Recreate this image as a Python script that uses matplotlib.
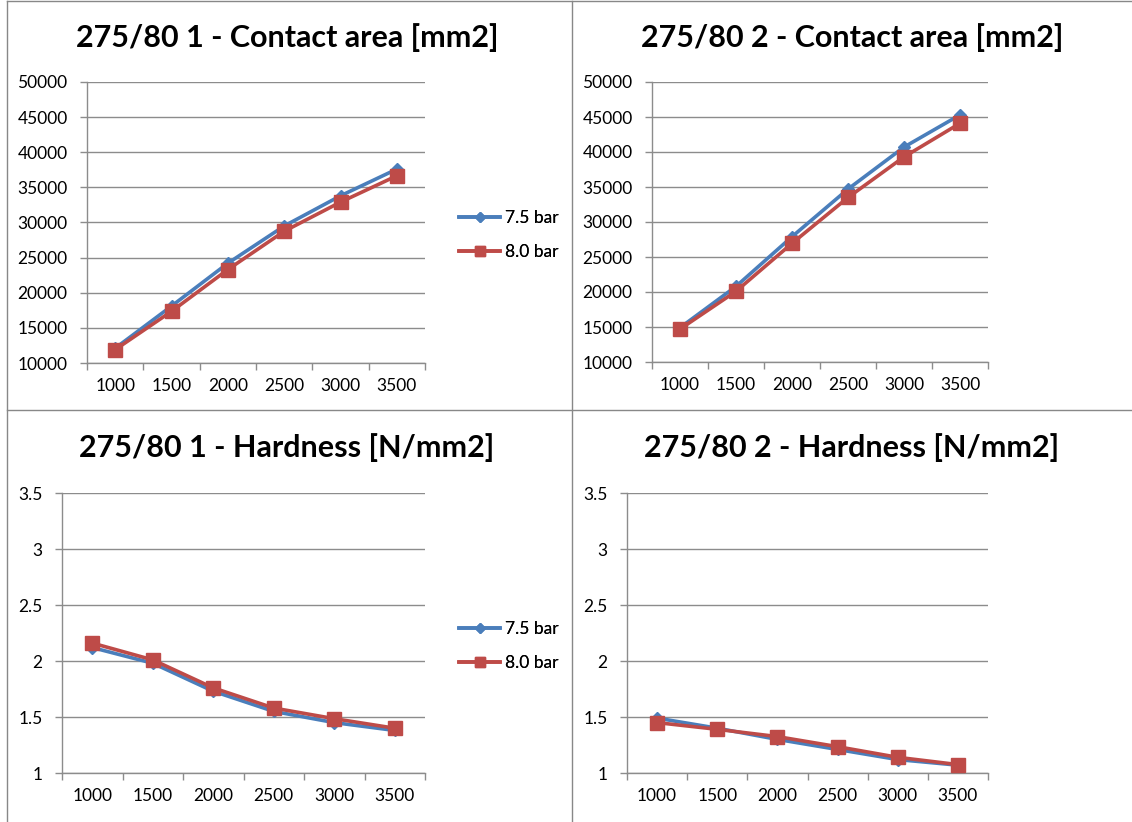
import matplotlib.pyplot as plt
from matplotlib.lines import Line2D

plt.rcParams['font.family'] = ['Lato', 'DejaVu Sans']

loads = ['1000', '1500', '2000', '2500', '3000', '3500']

# contact area [mm2], tyre 1 and tyre 2
area1_75 = [12100, 18100, 24200, 29500, 33800, 37600]
area1_80 = [11900, 17350, 23300, 28750, 32900, 36650]
area2_75 = [14900, 20800, 27900, 34700, 40700, 45300]
area2_80 = [14700, 20100, 26950, 33500, 39300, 44100]

# hardness [N/mm2]
hard1_75 = [2.12, 1.98, 1.73, 1.55, 1.45, 1.38]
hard1_80 = [2.16, 2.01, 1.76, 1.58, 1.485, 1.40]
hard2_75 = [1.49, 1.40, 1.30, 1.21, 1.12, 1.07]
hard2_80 = [1.45, 1.39, 1.325, 1.235, 1.14, 1.075]

series_labels = ['7.5 bar', '8.0 bar']
blue = '#4A7EBB'
red = '#BE4B48'
grid_col = '#8C8C8C'

W, H = 1132, 822
fig = plt.figure(figsize=(W / 100, H / 100), dpi=100)


def px_axes(x0, y0, x1, y1):
    return fig.add_axes([x0 / W, 1 - y1 / H, (x1 - x0) / W, (y1 - y0) / H])


def draw_panel(box, title, title_xy, s75, s80, ylim, ystep, yfmt, leg_y):
    ax = px_axes(*box)
    x = list(range(len(loads)))
    ax.plot(x, s75, color=blue, lw=2.6, marker='D', ms=6.5, label=series_labels[0], zorder=3)
    ax.plot(x, s80, color=red, lw=2.6, marker='s', ms=9.5, label=series_labels[1], zorder=4)
    ax.set_xlim(-0.5, len(loads) - 0.5)
    ax.set_ylim(*ylim)
    yt = []
    v = ylim[0]
    while v <= ylim[1] + 1e-9:
        yt.append(v)
        v += ystep
    ax.set_yticks(yt)
    ax.set_yticklabels([yfmt(t) for t in yt])
    ax.set_xticks([i - 0.5 for i in range(len(loads) + 1)])
    ax.set_xticklabels([])
    ax.set_xticks(x, minor=True)
    ax.set_xticklabels(loads, minor=True)
    ax.tick_params(axis='x', which='major', length=5, color=grid_col, width=1)
    ax.tick_params(axis='x', which='minor', length=0, pad=11, labelsize=12.5)
    ax.tick_params(axis='y', length=5, color=grid_col, width=1, labelsize=12.5, pad=9)
    ax.grid(axis='y', color=grid_col, lw=1)
    ax.set_axisbelow(True)
    for s in ('top', 'right'):
        ax.spines[s].set_visible(False)
    for s in ('left', 'bottom'):
        ax.spines[s].set_color(grid_col)
        ax.spines[s].set_linewidth(1)
    fig.text(title_xy[0] / W, 1 - title_xy[1] / H, title, ha='center', va='center',
             fontsize=22, fontweight='bold')
    ax.legend(loc='center left', bbox_to_anchor=(450 / W, 1 - leg_y / H),
              bbox_transform=fig.transFigure, frameon=False, fontsize=12.5,
              handlelength=2.4, handletextpad=0.25, labelspacing=1.0, borderpad=0,
              markerscale=0.8)
    return ax


draw_panel((87, 82, 425, 363), '275/80 1 - Contact area [mm2]', (287, 38),
           area1_75, area1_80, (10000, 50000), 5000, lambda t: f'{t:d}', 235)
draw_panel((652, 82, 988, 362), '275/80 2 - Contact area [mm2]', (852, 38),
           area2_75, area2_80, (10000, 50000), 5000, lambda t: f'{t:d}', 235)
draw_panel((62, 493, 425, 773), '275/80 1 - Hardness [N/mm2]', (287, 448),
           hard1_75, hard1_80, (1, 3.5), 0.5, lambda t: f'{t:g}', 646)
draw_panel((627, 493, 988, 773), '275/80 2 - Hardness [N/mm2]', (852, 448),
           hard2_75, hard2_80, (1, 3.5), 0.5, lambda t: f'{t:g}', 646)

# panel frame lines
frame = '#888888'
for (xa, ya, xb, yb) in [(7, 1, W, 1), (7, 1, 7, H), (572, 1, 572, H), (7, 410, W, 410)]:
    fig.add_artist(Line2D([xa / W, xb / W], [1 - ya / H, 1 - yb / H], color=frame, lw=1))

fig.savefig('out.png', dpi=100)
